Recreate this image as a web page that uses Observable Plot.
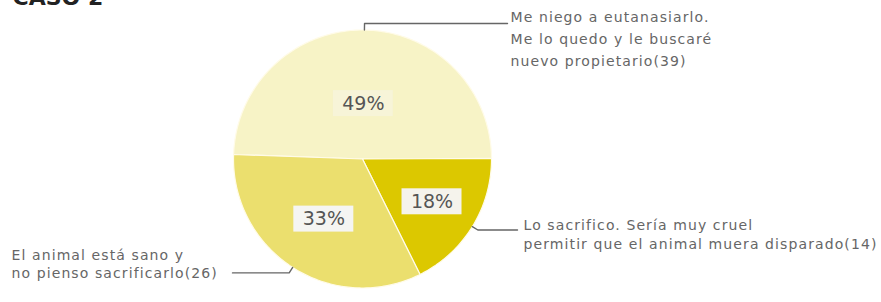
<!DOCTYPE html>
<html>
<head>
<meta charset="utf-8">
<script src="https://cdn.jsdelivr.net/npm/d3@7"></script>
<script src="https://cdn.jsdelivr.net/npm/@observablehq/plot@0.6"></script>
<style>
  html, body { margin: 0; padding: 0; background: #fff; }
  #chart svg { display: block; }
</style>
</head>
<body>
<div id="chart"></div>
<script>
// ---------- data ----------
const title = "CASO 2";
const categories = [
  "Me niego a eutanasiarlo. Me lo quedo y le buscaré nuevo propietario",
  "Lo sacrifico. Sería muy cruel permitir que el animal muera disparado",
  "El animal está sano y no pienso sacrificarlo"
];
const counts = [39, 14, 26];
const labelLines = [
  ["Me niego a eutanasiarlo.", "Me lo quedo y le buscaré", "nuevo propietario(39)"],
  ["Lo sacrifico. Sería muy cruel", "permitir que el animal muera disparado(14)"],
  ["El animal está sano y", "no pienso sacrificarlo(26)"]
];
const sliceColors = ["#f7f3c6", "#dcc800", "#ebdf6e"];

// ---------- layout (pixels) ----------
const W = 881, H = 302;
const CX = 362, CY = 158.5, R = 129;
const START = 272; // degrees clockwise from 12 o'clock
const toX = px => (px - CX) / R;
const toY = py => (CY - py) / R;
// per-label annotation layout
const labelLayout = [
  {endX: 507, textX: 510, textY: 6, gap: 22},
  {endX: 517, textX: 523, textY: 216, gap: 19},
  {endX: 232, textX: 11, textY: 246, gap: 18.5}
];

// ---------- derived geometry ----------
const total = d3.sum(counts);
let acc = START;
const slices = counts.map((v, i) => {
  const span = v / total * 360;
  const s = {i, cat: categories[i], a0: acc, a1: acc + span, span, pct: Math.round(v / total * 100) + "%"};
  acc += span;
  return s;
});
const rad = a => a * Math.PI / 180;
const pt = (a, r) => ({x: r * Math.sin(rad(a)), y: r * Math.cos(rad(a))});

const polyPts = [];
for (const s of slices) {
  polyPts.push({cat: s.cat, ...pt(0, 0)});
  const n = Math.max(8, Math.ceil(s.span));
  for (let k = 0; k <= n; k++) polyPts.push({cat: s.cat, ...pt(s.a0 + s.span * k / n, 1)});
}

const pctPos = slices.map(s => {
  const al = rad(s.span);
  const d = 4 * Math.sin(al / 2) / (3 * al);
  const mid = (s.a0 + s.a1) / 2;
  return {...pt(mid, d), text: s.pct, i: s.i};
});
const boxW = 60 / R, boxH = 26 / R;

const leaders = [];
slices.forEach((s, i) => {
  const mid = (s.a0 + s.a1) / 2;
  const e = pt(mid, 1), el = pt(mid, 1.05);
  const L = labelLayout[i];
  leaders.push({id: i, k: 0, ...e});
  leaders.push({id: i, k: 1, ...el});
  leaders.push({id: i, k: 2, x: toX(L.endX), y: el.y});
});

const texts = labelLines.map((lines, i) => ({
  x: toX(labelLayout[i].textX), y: toY(labelLayout[i].textY),
  text: lines.join("\n"), gap: labelLayout[i].gap
}));

const font = "DejaVu Sans, sans-serif";

const plot = Plot.plot({
  width: W, height: H,
  margin: 0,
  x: {domain: [toX(0), toX(W)], axis: null},
  y: {domain: [toY(H), toY(0)], axis: null},
  color: {domain: categories, range: sliceColors},
  style: {fontFamily: font, background: "#fff"},
  marks: [
    Plot.line(polyPts, {x: "x", y: "y", z: "cat", fill: "cat", stroke: "#fffbe8", strokeWidth: 1.2, curve: "linear-closed"}),
    Plot.rect(pctPos, {
      x1: d => d.x - boxW / 2, x2: d => d.x + boxW / 2,
      y1: d => d.y - boxH / 2, y2: d => d.y + boxH / 2,
      fill: "#f5f5f9", fillOpacity: d => d.i === 0 ? 0.35 : 0.95
    }),
    Plot.text(pctPos, {x: "x", y: "y", text: "text", fontSize: 19, fill: "#555", fontFamily: font}),
    Plot.line(leaders, {x: "x", y: "y", z: "id", stroke: "#666", strokeWidth: 1.4}),
    ...texts.map(t => Plot.text([t], {
      x: "x", y: "y", text: "text", textAnchor: "start", lineAnchor: "top",
      lineHeight: t.gap / 14, fontSize: 14, fill: "#666", fontFamily: font
    })),
    Plot.text([title], {frameAnchor: "top-left", dx: 12, dy: 4, lineAnchor: "bottom", text: d => d, fontSize: 22, fontWeight: "bold", fill: "#222", fontFamily: font})
  ]
});
// widen the label lettering to match the reference's spaced bitmap font
d3.select(plot).selectAll('g[aria-label="text"] text')
  .filter(function () { return +this.getAttribute("font-size") === 14 || this.parentNode.getAttribute("font-size") === "14"; })
  .style("letter-spacing", "1.1px");
d3.select(plot).selectAll('g[aria-label="text"]')
  .filter(function () { return this.getAttribute("font-size") === "14"; })
  .style("letter-spacing", "1.1px");
document.getElementById("chart").appendChild(plot);
</script>
</body>
</html>
